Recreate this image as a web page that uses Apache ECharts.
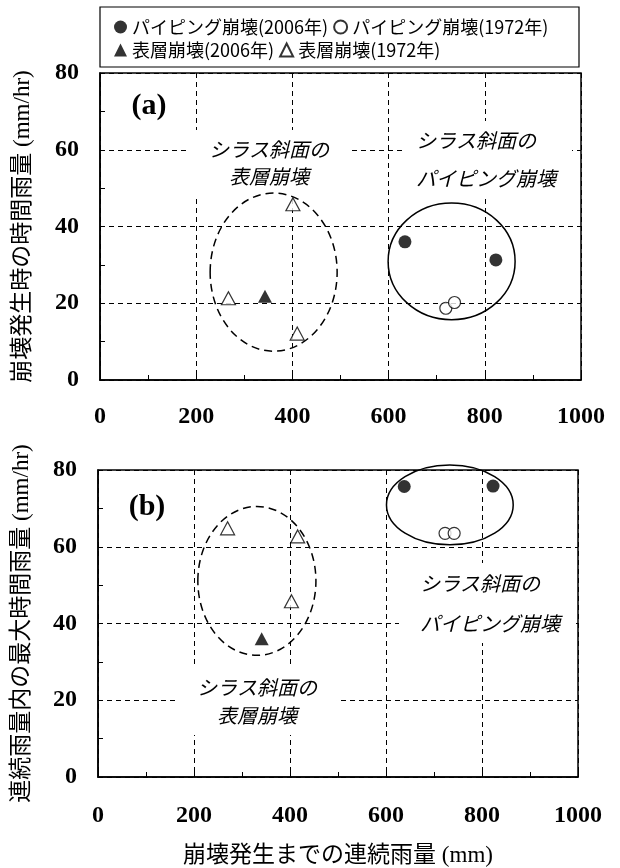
<!DOCTYPE html>
<html><head><meta charset="utf-8">
<script src="https://cdn.jsdelivr.net/npm/echarts@6/dist/echarts.min.js"></script>
<style>html,body{margin:0;padding:0;background:#fff}#c{width:620px;height:868px}</style>
</head><body><div id="c"></div>
<script>
// ---- data ----
const seriesNames = ['パイピング崩壊(2006年)', 'パイピング崩壊(1972年)', '表層崩壊(2006年)', '表層崩壊(1972年)'];
const xRange = [0, 1000];
const xStep = 200;
const yRange = [0, 80];
const yStep = 20;
const panelLabels = ['(a)', '(b)'];
const yAxisNames = ['崩壊発生時の時間雨量 (mm/hr)', '連続雨量内の最大時間雨量 (mm/hr)'];
const xAxisName = '崩壊発生までの連続雨量 (mm)';

// panel (a): cumulative rainfall (mm) vs hourly rainfall at failure (mm/hr)
const aPiping2006 = [[634, 36.0], [823, 31.3]];
const aPiping1972 = [[719, 18.7], [737, 20.2]];
const aSurface2006 = [[343, 21.8]];
const aSurface1972 = [[401, 45.8], [267, 21.3], [410, 12.1]];
// panel (b): cumulative rainfall (mm) vs max hourly rainfall (mm/hr)
const bPiping2006 = [[638, 75.7], [823, 75.8]];
const bPiping1972 = [[723, 63.5], [742, 63.5]];
const bSurface2006 = [[341, 36.0]];
const bSurface1972 = [[270, 64.8], [416, 62.7], [403, 45.8]];

const groupLabelSurface = 'シラス斜面の\n表層崩壊';
const groupLabelPiping = 'シラス斜面の\nパイピング崩壊';

// ---- styles ----
const serifFont = "'Liberation Serif','Times New Roman',serif";
const mixedFont = "'Liberation Serif','Noto Sans CJK JP',serif";
const jpFont = "'Noto Sans CJK JP','Noto Sans',sans-serif";

const markerStyles = [
  {symbol: 'circle', symbolSize: 13, itemStyle: {color: '#000'}},
  {symbol: 'circle', symbolSize: 12, itemStyle: {color: '#fff', borderColor: '#000', borderWidth: 1.2}},
  {symbol: 'triangle', symbolSize: [14, 13], itemStyle: {color: '#000'}},
  {symbol: 'triangle', symbolSize: [14, 13], itemStyle: {color: '#fff', borderColor: '#000', borderWidth: 1.2}}
];

const grids = [
  {left: 100, top: 73, width: 481, height: 307},
  {left: 98, top: 470, width: 480, height: 308}
];

function makeX(i) {
  const ax = {
    type: 'value', gridIndex: i, min: xRange[0], max: xRange[1], interval: xStep,
    axisLine: {show: true, lineStyle: {color: '#000', width: 1.5}},
    axisTick: {show: true, inside: true, length: 5, lineStyle: {color: '#000'}},
    minorTick: {show: true, splitNumber: 2, length: 5, lineStyle: {color: '#000'}},
    splitLine: {show: true, lineStyle: {color: '#000', width: 1, type: [5, 4]}},
    axisLabel: {color: '#000', fontFamily: serifFont, fontWeight: 'bold', fontSize: 24, margin: i === 0 ? 25 : 27,
                formatter: v => String(v)}
  };
  if (i === 1) {
    ax.name = xAxisName;
    ax.nameLocation = 'middle';
    ax.nameGap = 67;
    ax.nameTextStyle = {color: '#000', fontFamily: mixedFont, fontSize: 23};
  }
  return ax;
}
function makeY(i) {
  return {
    type: 'value', gridIndex: i, min: yRange[0], max: yRange[1], interval: yStep,
    axisLine: {show: true, lineStyle: {color: '#000', width: 1.5}},
    axisTick: {show: true, inside: true, length: 5, lineStyle: {color: '#000'}},
    minorTick: {show: true, splitNumber: 2, length: 5, lineStyle: {color: '#000'}},
    splitLine: {show: true, lineStyle: {color: '#000', width: 1, type: [5, 4]}},
    axisLabel: {color: '#000', fontFamily: serifFont, fontWeight: 'bold', fontSize: 24, margin: 21},
    name: yAxisNames[i], nameLocation: 'middle', nameGap: i === 0 ? 66 : 65,
    nameTextStyle: {color: '#000', fontFamily: mixedFont, fontSize: 23}
  };
}

const panelData = [
  [aPiping2006, aPiping1972, aSurface2006, aSurface1972],
  [bPiping2006, bPiping1972, bSurface2006, bSurface1972]
];
const series = [];
panelData.forEach((sets, gi) => {
  sets.forEach((d, si) => {
    series.push(Object.assign({
      type: 'scatter', name: seriesNames[si], xAxisIndex: gi, yAxisIndex: gi, data: d, z: 5
    }, markerStyles[si]));
  });
});

const chart = echarts.init(document.getElementById('c'));
chart.setOption({
  animation: false,
  backgroundColor: '#fff',
  legend: {
    data: seriesNames, left: 114, top: 18, width: 455, itemGap: 5,
    itemWidth: 13, itemHeight: 13, padding: 0,
    textStyle: {color: '#000', fontFamily: jpFont, fontSize: 18}
  },
  grid: grids.map(g => Object.assign({show: true, borderColor: '#000', borderWidth: 1.5, containLabel: false}, g)),
  xAxis: [makeX(0), makeX(1)],
  yAxis: [makeY(0), makeY(1)],
  series: series
});

// ---- annotations ----
const ellipses = [
  {grid: 0, center: [361, 28.1], radius: [132, 20.6], dashed: true},
  {grid: 0, center: [731, 30.9], radius: [132, 15.2], dashed: false},
  {grid: 1, center: [331, 51.1], radius: [123, 19.4], dashed: true},
  {grid: 1, center: [733, 70.9], radius: [132, 10.4], dashed: false}
];
function ellipseGraphic(e, k) {
  const c = chart.convertToPixel({gridIndex: e.grid}, e.center);
  const r = chart.convertToPixel({gridIndex: e.grid}, [e.center[0] + e.radius[0], e.center[1] + e.radius[1]]);
  return {
    type: 'ellipse', id: 'el' + k, silent: true, z: 4,
    shape: {cx: c[0], cy: c[1], rx: Math.abs(r[0] - c[0]), ry: Math.abs(r[1] - c[1])},
    style: {fill: null, stroke: '#000', lineWidth: 1.5, lineDash: e.dashed ? [8, 5] : null}
  };
}
function note(id, text, x, y, align, lineHeight, padding) {
  return {
    type: 'text', id: id, x: x, y: y, z: 3, silent: true,
    style: {
      text: text, fontFamily: jpFont, fontStyle: 'italic', fontSize: 20, fill: '#000',
      align: align, verticalAlign: 'middle', lineHeight: lineHeight,
      backgroundColor: '#fff', padding: padding
    }
  };
}
const graphics = [
  {type: 'rect', id: 'legbox', silent: true, z: 1, shape: {x: 100, y: 7, width: 479, height: 60},
   style: {fill: null, stroke: '#000', lineWidth: 1.2}},
  {type: 'text', id: 'pa', x: 149, y: 106, z: 3, style: {text: panelLabels[0], fontFamily: serifFont, fontWeight: 'bold', fontSize: 30, fill: '#000', align: 'center', verticalAlign: 'middle'}},
  {type: 'text', id: 'pb', x: 147, y: 507, z: 3, style: {text: panelLabels[1], fontFamily: serifFont, fontWeight: 'bold', fontSize: 30, fill: '#000', align: 'center', verticalAlign: 'middle'}},
  note('n1', groupLabelSurface, 269, 163, 'center', 27, [6, 20]),
  note('n2', groupLabelPiping, 402, 159, 'left', 38, [0, 16, 0, 14]),
  note('n3', groupLabelPiping, 399, 603, 'left', 40, [0, 16, 0, 21]),
  note('n4', groupLabelSurface, 257, 701, 'center', 28, [6, 20])
].concat(ellipses.map(ellipseGraphic));
chart.setOption({graphic: graphics});
</script>
</body></html>
